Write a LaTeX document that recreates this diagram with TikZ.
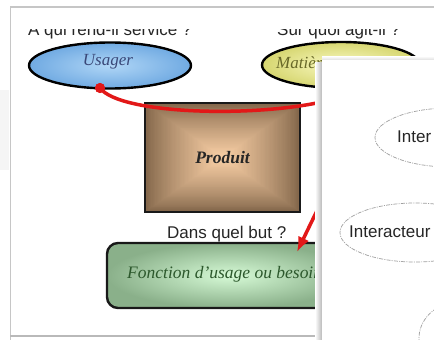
\documentclass[tikz,border=0pt]{standalone}
\usepackage{fontspec}
\setmainfont{Liberation Serif}
\setsansfont{Liberation Sans}
\usetikzlibrary{shapes.geometric,arrows.meta,calc}
\definecolor{redc}{RGB}{226,24,24}
\definecolor{blueIn}{RGB}{176,214,246}
\definecolor{blueOut}{RGB}{112,170,226}
\definecolor{yelIn}{RGB}{250,250,196}
\definecolor{yelOut}{RGB}{214,214,112}
\definecolor{brownEdge}{RGB}{128,100,72}
\definecolor{brownMid}{RGB}{250,208,166}
\definecolor{greenIn}{RGB}{214,250,214}
\definecolor{greenOut}{RGB}{138,176,138}
\definecolor{usagerTxt}{RGB}{58,72,120}
\definecolor{matTxt}{RGB}{104,104,40}
\definecolor{fonTxt}{RGB}{44,88,44}
\tikzset{
  sanstext/.style={font=\sffamily\fontsize{17}{20}\selectfont, text=black!85, inner sep=0pt},
  ovalbox/.style={ellipse, draw=black, line width=2.4pt, minimum width=162pt, minimum height=46pt, inner sep=0pt},
  dashoval/.style={ellipse, draw=gray!75, line width=0.7pt, dash pattern=on 4pt off 1.2pt on 1pt off 1.2pt, inner sep=0pt},
  redline/.style={draw=redc, line width=3.5pt, -{Latex[length=15pt,width=12pt]}},
}
\begin{document}
\begin{tikzpicture}[x=1pt,y=-1pt]
\clip (0,0) rectangle (434,340);
\fill[white] (0,0) rectangle (434,340);
% left slide frame
\fill[gray!8] (0,90) rectangle (9,170);
\draw[gray!45, line width=1.5pt] (10.5,340) -- (10.5,7) -- (434,7);
\draw[gray!55, line width=1.5pt] (10,336) -- (322,336);

% questions (top half hidden)
\begin{scope}
\clip (0,29.5) rectangle (434,60);
\node[sanstext, anchor=base west] (q1) at (28,35) {À qui rend-il service ?};
\node[sanstext, anchor=base west] (q2) at (277,35) {Sur quoi agit-il ?};
\end{scope}

% ellipses
\node[ovalbox, inner color=blueIn, outer color=blueOut] (usager) at (110,65.5) {};
\node[font=\itshape\fontsize{17}{20}\selectfont, text=usagerTxt] (usagerT) at (108,62) {Usager};
\node[ovalbox, inner color=yelIn, outer color=yelOut, minimum width=158pt] (matiere) at (341,65) {};
\node[font=\itshape\fontsize{17}{20}\selectfont, text=matTxt, anchor=base west, inner sep=0pt] (matT) at (276,68) {Matière d’œuvre};

% produit : rectangular (pyramid) shading from nested rectangles
\coordinate (pc) at (222.5,157.5);
\foreach \i in {0,...,60}{
  \pgfmathsetmacro{\f}{1-\i/60}
  \pgfmathsetmacro{\p}{100*(\i/60)^0.8}
  \fill[brownMid!\p!brownEdge] ($(pc)+(-77.5*\f,-54.5*\f)$) rectangle ($(pc)+(77.5*\f,54.5*\f)$);
}
\node[draw=black!90, line width=2.2pt, minimum width=155pt, minimum height=109pt, inner sep=0pt,
      font=\bfseries\itshape\fontsize{17.5}{20}\selectfont, text=black!85] (produit) at (pc) {Produit};

% goal
\node[sanstext, anchor=base west] (q3) at (167,238) {Dans quel but ?};
\node[draw=black!90, line width=2.4pt, rounded corners=11pt, minimum width=245pt, minimum height=65pt,
      inner color=greenIn, outer color=greenOut] (fonction) at (229.5,275.5) {};
\node[font=\itshape\fontsize{17.5}{20}\selectfont, text=fonTxt, anchor=base west, inner sep=0pt] (fonT) at (127,278) {Fonction d’usage ou besoin};

% red connector
\node[circle, fill=redc, minimum size=10pt, inner sep=0pt] (dot) at (100,88) {};
\coordinate (tip) at (297,252);
\draw[redline] (dot.center) .. controls (120,115) and (260,118) .. (330,100)
   .. controls (380,87) and (336,171) .. (tip);
\node[circle, fill=redc, minimum size=10pt, inner sep=0pt] (dot2) at (dot) {};

% overlay slide
\shade[left color=white, right color=gray!55] (315,62) rectangle (322,340);
\shade[top color=white, bottom color=gray!25] (322,56) rectangle (440,60);
\fill[white] (322,60) rectangle (440,345);
\node[dashoval, minimum width=150pt, minimum height=59pt] (i1) at (450,137.5) {};
\node[sanstext, anchor=west] (i1T) at (397,137) {Inter};
\node[dashoval, minimum width=150pt, minimum height=59pt] (i2) at (415,232.5) {};
\node[sanstext, anchor=west] (i2T) at (349,232) {Interacteur};
\node[dashoval, minimum width=92pt, minimum height=76pt] (i3) at (465,338) {};
\end{tikzpicture}
\end{document}
